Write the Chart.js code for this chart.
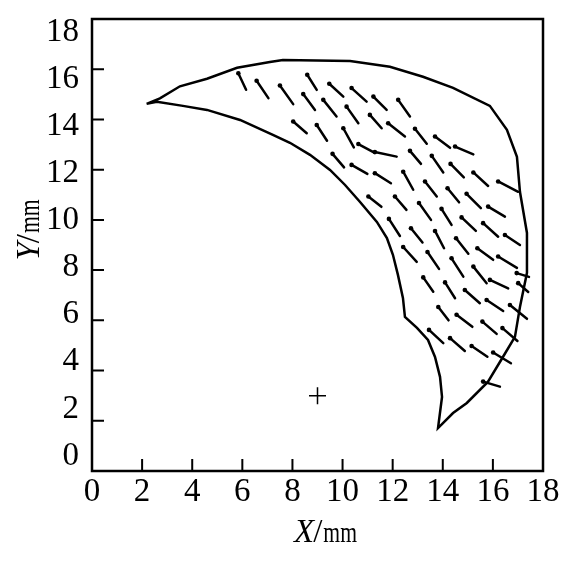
<!DOCTYPE html>
<html>
<head>
<meta charset="utf-8">
<script src="https://cdn.jsdelivr.net/npm/chart.js@4.4.1/dist/chart.umd.min.js"></script>
<style>
    html, body { margin: 0; padding: 0; background: #ffffff; }
</style>
</head>
<body>
<canvas id="fiber-chart" width="572" height="561"></canvas>
<script>
// tick labels (mm), same on both axes
const tickLabels = [0, 2, 4, 6, 8, 10, 12, 14, 16, 18];

// region outline, from the left tip along the top edge, round the right side and back
const outlineX = [2.18, 2.71, 3.51, 4.59, 5.79, 7.10, 7.62, 10.30, 11.89, 13.21, 14.41, 15.88, 16.56, 16.96, 17.08, 17.36, 17.36, 17.08, 16.88, 16.40, 15.80, 14.96, 14.41, 13.81, 13.97, 13.89, 13.69, 13.41, 12.97, 12.49, 12.41, 12.21, 12.01, 11.77, 11.37, 10.69, 10.10, 9.50, 8.70, 7.90, 7.22, 5.91, 4.59, 3.63, 2.59, 2.18];
const outlineY = [14.62, 14.84, 15.32, 15.62, 16.06, 16.29, 16.37, 16.33, 16.10, 15.70, 15.26, 14.54, 13.59, 12.51, 11.12, 9.48, 7.89, 6.53, 5.34, 4.54, 3.55, 2.71, 2.31, 1.71, 2.95, 3.75, 4.54, 5.22, 5.70, 6.14, 6.89, 7.81, 8.61, 9.28, 9.92, 10.72, 11.39, 11.99, 12.59, 13.07, 13.39, 13.98, 14.38, 14.54, 14.70, 14.62];

// orientation marks: head (x0, y0) -> tail (x1, y1)
const markX0 = [5.84, 6.57, 7.50, 8.59, 9.47, 10.36, 11.23, 12.22, 8.43, 9.23, 10.16, 11.09, 11.82, 12.89, 13.69, 14.49, 8.03, 8.97, 10.03, 10.63, 11.29, 12.69, 13.56, 14.31, 15.22, 16.21, 9.60, 10.36, 11.29, 12.42, 13.29, 14.19, 14.95, 15.81, 11.03, 12.09, 13.05, 13.95, 14.75, 15.61, 16.48, 11.85, 12.73, 13.69, 14.53, 15.38, 16.21, 16.95, 12.42, 13.39, 14.35, 15.22, 15.88, 17.01, 13.22, 14.09, 14.88, 15.75, 16.68, 13.82, 14.55, 15.58, 16.38, 13.45, 14.29, 15.15, 16.01, 15.61];
const markY0 = [15.84, 15.54, 15.35, 15.78, 15.42, 15.25, 14.91, 14.78, 15.01, 14.78, 14.51, 14.18, 13.85, 13.63, 13.32, 12.92, 13.92, 13.78, 13.65, 13.02, 12.70, 12.75, 12.55, 12.23, 11.89, 11.53, 12.63, 12.19, 11.86, 11.92, 11.53, 11.26, 11.04, 10.53, 10.93, 10.93, 10.67, 10.44, 10.10, 9.87, 9.40, 10.04, 9.67, 9.56, 9.27, 8.87, 8.54, 7.88, 8.92, 8.72, 8.47, 8.14, 7.61, 7.48, 7.71, 7.51, 7.21, 6.81, 6.61, 6.53, 6.22, 5.95, 5.69, 5.62, 5.29, 4.98, 4.72, 3.56];
const markX1 = [6.15, 7.04, 8.03, 8.97, 10.03, 10.96, 11.76, 12.69, 8.90, 9.76, 10.63, 11.56, 12.49, 13.36, 14.29, 15.22, 8.57, 9.38, 10.45, 11.23, 12.16, 13.13, 14.02, 14.84, 15.81, 17.01, 10.06, 10.99, 11.93, 12.82, 13.76, 14.65, 15.52, 16.48, 11.55, 12.55, 13.53, 14.35, 15.32, 16.21, 17.08, 12.29, 13.19, 14.05, 15.02, 16.01, 16.96, 17.44, 12.96, 13.85, 14.82, 15.75, 16.61, 17.41, 13.62, 14.49, 15.48, 16.41, 17.36, 14.23, 15.18, 16.15, 16.98, 14.02, 14.88, 15.78, 16.72, 16.28];
const markY1 = [15.18, 14.85, 14.61, 15.18, 14.91, 14.71, 14.38, 14.12, 14.38, 14.12, 13.85, 13.65, 13.32, 13.03, 12.87, 12.61, 13.45, 13.15, 12.89, 12.70, 12.52, 12.23, 11.89, 11.69, 11.35, 11.12, 12.09, 11.83, 11.46, 11.20, 10.93, 10.70, 10.47, 10.13, 10.52, 10.40, 10.00, 9.80, 9.56, 9.33, 9.00, 9.36, 9.10, 8.87, 8.65, 8.41, 8.09, 7.73, 8.33, 8.05, 7.74, 7.48, 7.27, 7.13, 7.14, 6.88, 6.68, 6.37, 6.06, 6.00, 5.74, 5.46, 5.18, 5.09, 4.78, 4.55, 4.29, 3.36];

// reference point (+)
const centreX = [9];
const centreY = [3];

const serif = "'Liberation Serif', 'Times New Roman', serif";

const datasets = [];

datasets.push({
    data: outlineX.map((x, i) => ({ x: x, y: outlineY[i] })),
    showLine: true,
    borderColor: '#000000',
    borderWidth: 2.5,
    pointRadius: 0,
    tension: 0
});

markX0.forEach((x0, i) => {
    datasets.push({
        data: [{ x: x0, y: markY0[i] }, { x: markX1[i], y: markY1[i] }],
        showLine: true,
        borderColor: '#000000',
        borderWidth: 2.5,
        borderCapStyle: 'round',
        pointRadius: [2.3, 0],
        pointBorderWidth: 0,
        pointBackgroundColor: '#000000',
        tension: 0
    });
});

datasets.push({
    data: centreX.map((x, i) => ({ x: x, y: centreY[i] })),
    pointStyle: 'cross',
    pointRadius: 8.5,
    borderColor: '#000000',
    borderWidth: 1.5
});

// frame, inward tick marks and the two axis titles
const framePlugin = {
    id: 'framePlugin',
    afterDraw: (chart) => {
        const { ctx, chartArea } = chart;
        const { left, top, right, bottom } = chartArea;
        const xs = chart.scales.x;
        const ys = chart.scales.y;

        ctx.save();
        ctx.strokeStyle = '#000000';
        ctx.lineWidth = 2.5;
        ctx.strokeRect(left, top, right - left, bottom - top);

        ctx.lineWidth = 2;
        ctx.beginPath();
        tickLabels.forEach(v => {
            if (v === 0 || v === 18) return;
            const px = xs.getPixelForValue(v);
            ctx.moveTo(px, bottom);
            ctx.lineTo(px, bottom - 12);
            const py = ys.getPixelForValue(v);
            ctx.moveTo(left, py);
            ctx.lineTo(left + 12, py);
        });
        ctx.stroke();

        const drawTitle = (letter) => {
            ctx.font = 'italic 33px ' + serif;
            const w1 = ctx.measureText(letter).width;
            ctx.font = '33px ' + serif;
            const w2 = ctx.measureText('/').width;
            ctx.font = '30px ' + serif;
            const w3 = ctx.measureText('mm').width * 0.72;
            const total = w1 + w2 + w3;
            let x = -total / 2;
            ctx.fillStyle = '#000000';
            ctx.textBaseline = 'alphabetic';
            ctx.textAlign = 'left';
            ctx.font = 'italic 33px ' + serif;
            ctx.fillText(letter, x, 0);
            x += w1 - 1;
            ctx.font = '33px ' + serif;
            ctx.fillText('/', x, 0);
            x += w2 + 1;
            ctx.save();
            ctx.translate(x, 0);
            ctx.scale(0.72, 1);
            ctx.font = '30px ' + serif;
            ctx.fillText('mm', 0, 0);
            ctx.restore();
        };

        ctx.save();
        ctx.translate((left + right) / 2 + 8, bottom + 71);
        drawTitle('X');
        ctx.restore();

        ctx.save();
        ctx.translate(left - 53, (top + bottom) / 2 - 15);
        ctx.rotate(-Math.PI / 2);
        drawTitle('Y');
        ctx.restore();

        ctx.restore();
    }
};

// keep the plot box fixed: no extra room for overhanging end labels
const noOverhang = (scale) => {
    scale.paddingTop = 0;
    scale.paddingBottom = 0;
    scale.paddingLeft = 0;
    scale.paddingRight = 0;
};

const ctx = document.getElementById('fiber-chart').getContext('2d');

new Chart(ctx, {
    type: 'scatter',
    data: { datasets: datasets },
    options: {
        responsive: false,
        animation: false,
        layout: {
            padding: { top: 19, right: 29, bottom: 0, left: 0 }
        },
        plugins: {
            legend: { display: false },
            tooltip: { enabled: false }
        },
        scales: {
            x: {
                type: 'linear',
                min: 0,
                max: 18,
                afterFit: (scale) => { scale.height = 90; noOverhang(scale); },
                afterBuildTicks: (scale) => { scale.ticks = tickLabels.map(v => ({ value: v })); },
                grid: { display: false, drawTicks: false },
                border: { display: false },
                ticks: {
                    color: '#000000',
                    padding: 2,
                    maxRotation: 0,
                    autoSkip: false,
                    font: { family: serif, size: 33 }
                }
            },
            y: {
                type: 'linear',
                display: false,
                min: 0,
                max: 18
            },
            // label axis: the source figure sets its y labels slightly closer together than the ticks
            yLabels: {
                type: 'linear',
                position: 'left',
                min: -0.64,
                max: 18.57,
                afterFit: (scale) => { scale.width = 92; noOverhang(scale); },
                afterBuildTicks: (scale) => { scale.ticks = tickLabels.map(v => ({ value: v })); },
                grid: { display: false, drawTicks: false },
                border: { display: false },
                ticks: {
                    color: '#000000',
                    padding: 13,
                    autoSkip: false,
                    font: { family: serif, size: 33 }
                }
            }
        }
    },
    plugins: [framePlugin]
});
</script>
</body>
</html>
